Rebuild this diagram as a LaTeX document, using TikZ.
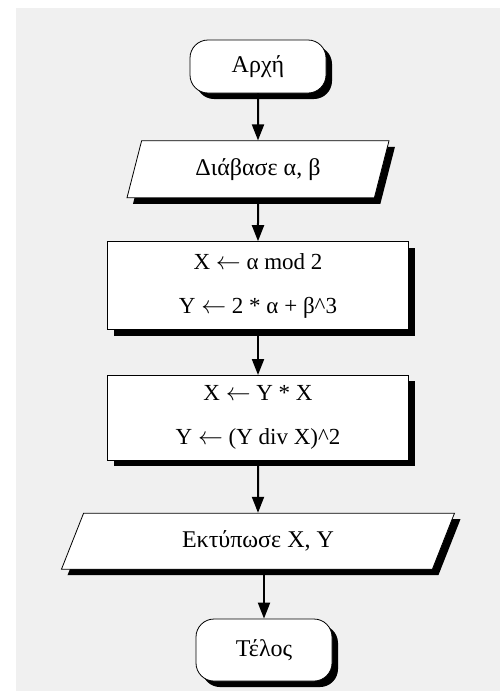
\documentclass[tikz,border=0pt]{standalone}
\usepackage{fontspec}
\setmainfont{Liberation Serif}
\usetikzlibrary{positioning,arrows.meta,shapes.geometric,shadows}
\definecolor{paperGray}{HTML}{F0F0F0}
\tikzset{
    boxshadow/.style={drop shadow={shadow xshift=6pt,shadow yshift=-6pt,
        fill=black,opacity=1}},
    terminal/.style={draw=black,fill=white,line width=0.8pt,rounded corners=18pt,
        minimum width=136pt,boxshadow,font=\fontsize{24}{28}\selectfont},
    io/.style={trapezium,trapezium stretches body,draw=black,fill=white,
        line width=0.8pt,boxshadow,font=\fontsize{24}{28}\selectfont},
    process/.style={draw=black,fill=white,line width=0.8pt,minimum width=301pt,
        boxshadow,align=center,font=\fontsize{23}{44}\selectfont},
    arrow/.style={-{Triangle[length=16pt,width=12pt]},line width=2pt}
}

\begin{document}
\begin{tikzpicture}[x=1pt,y=1pt,node distance=46pt]
    \fill[white] (0,0) rectangle (500,-691);
    \fill[paperGray] (16,-8) rectangle (500,-691);
    \useasboundingbox (0,0) rectangle (500,-691);
    \node[terminal,minimum height=53pt] (start) at (258,-66.5) {Αρχή};
    \node[io,trapezium left angle=63,trapezium right angle=117,
        minimum width=262pt,minimum height=57pt] (read) [below=47pt of start] {Διάβασε α, β};
    \node[process,minimum height=88pt] (calcA) [below=43pt of read]
        {X $\leftarrow$ α mod 2\\Y $\leftarrow$ 2 * α + β\textasciicircum 3};
    \node[process,minimum height=85pt] (calcB) [below=45pt of calcA]
        {X $\leftarrow$ Y * X\\Y $\leftarrow$ (Y div X)\textasciicircum 2};
    \node[io,trapezium left angle=51,trapezium right angle=129,
        minimum width=393pt,minimum height=56pt] (print) [below=52pt of calcB] {Εκτύπωσε X, Y};
    \node[terminal,minimum height=62pt] (stop) [below=49pt of print,xshift=6pt] {Τέλος};
    \draw[arrow] (start) -- (read);
    \draw[arrow] (read) -- (calcA);
    \draw[arrow] (calcA) -- (calcB);
    \draw[arrow] (calcB) -- (print);
    \draw[arrow] (print.south -| stop) -- (stop);
\end{tikzpicture}
\end{document}
